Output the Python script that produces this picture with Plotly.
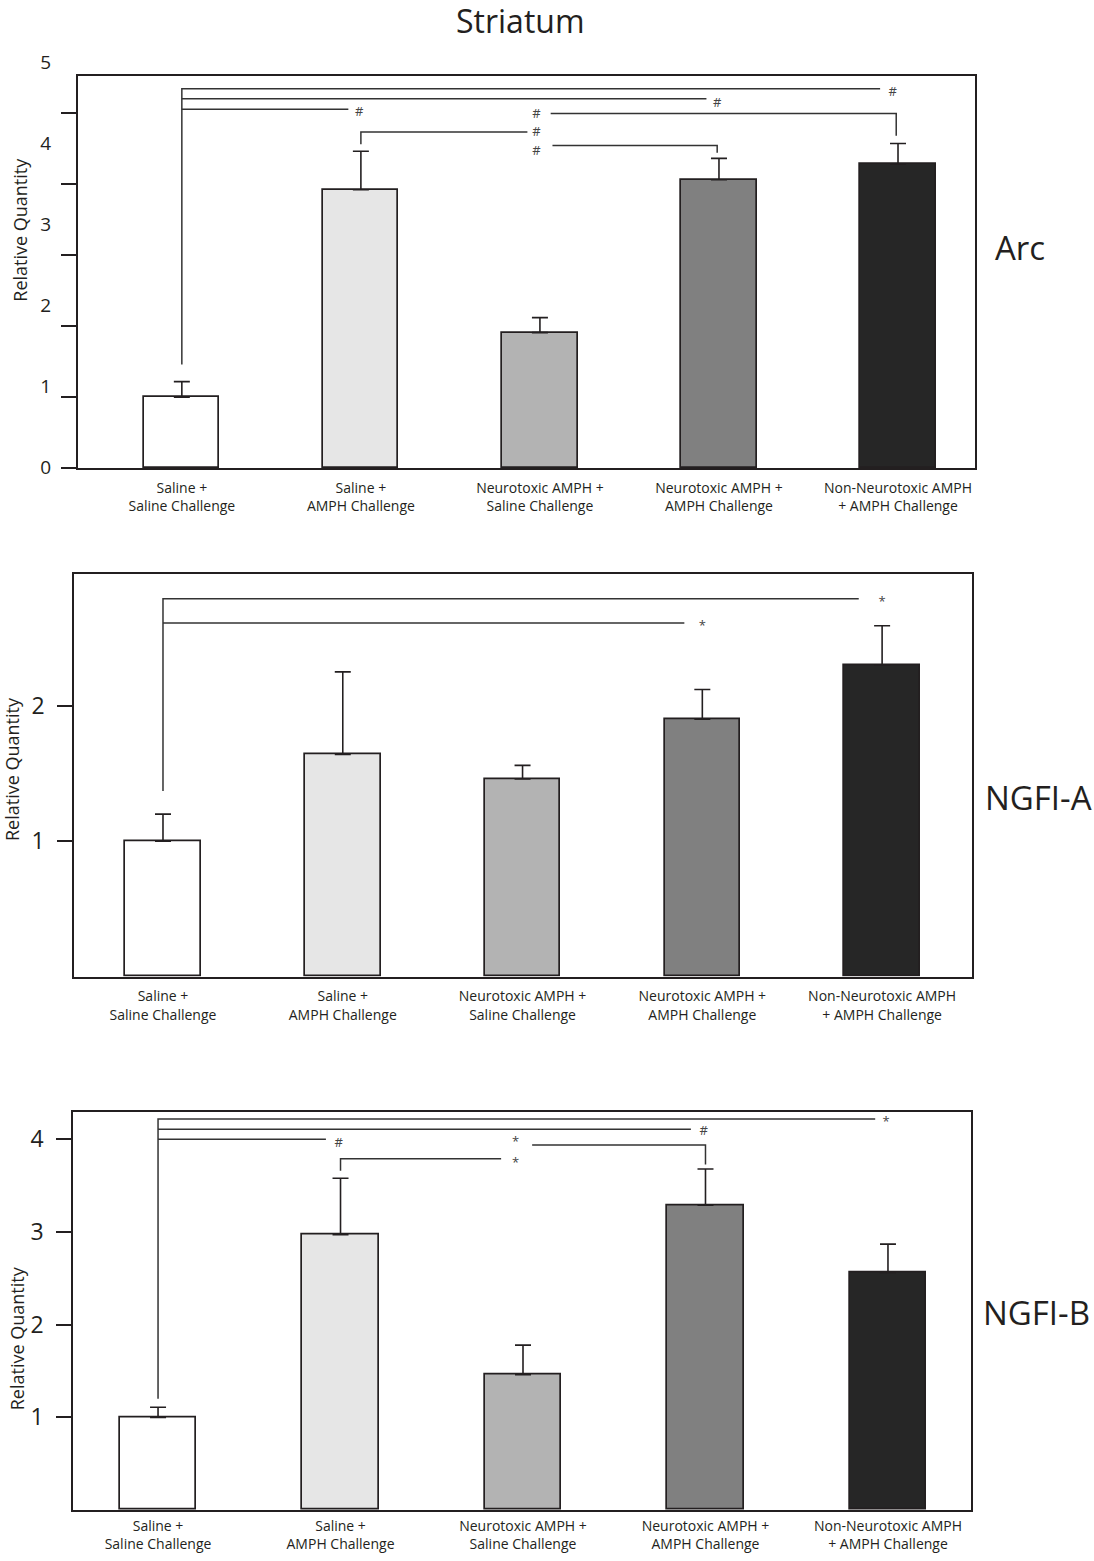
import plotly.graph_objects as go

W, H = 1094, 1561
# the captured page is about 14 px taller than the figure and is squeezed to H,
# so vertical layout positions are laid out on this effective height
H_EFF = 1547

categories = ["Saline +<br>Saline Challenge", "Saline +<br>AMPH Challenge",
              "Neurotoxic AMPH +<br>Saline Challenge", "Neurotoxic AMPH +<br>AMPH Challenge",
              "Non-Neurotoxic AMPH<br>+ AMPH Challenge"]
bar_colors = ["#ffffff", "#e6e6e6", "#b3b3b3", "#808080", "#262626"]

# Arc
arc_mean = [1.0, 3.92, 1.91, 4.06, 4.28]
arc_err = [0.22, 0.54, 0.21, 0.30, 0.29]
arc_ticks = [0, 1, 2, 3, 4, 5]
# significance lines: start x, end x, level, drop at start to, drop at end to
arc_sig_x0 = [0, 0, 0, 1.0, 2.06, 2.07]
arc_sig_x1 = [3.90, 2.93, 0.93, 1.93, 3.99, 2.99]
arc_sig_y = [5.34, 5.20, 5.05, 4.73, 4.99, 4.54]
arc_sig_drop0 = [1.46, None, None, 4.56, None, None]
arc_sig_drop1 = [None, None, None, None, 4.68, 4.44]
arc_sym = ["#", "#", "#", "#", "#", "#"]
arc_sym_x = [3.97, 2.99, 0.99, 1.98, 1.98, 1.98]
arc_sym_y = [5.28, 5.13, 5.00, 4.72, 4.97, 4.46]

# NGFI-A
ngfia_mean = [1.0, 1.64, 1.46, 1.90, 2.30]
ngfia_err = [0.20, 0.61, 0.10, 0.22, 0.29]
ngfia_ticks = [1, 2]
ngfia_sig_x0 = [0, 0]
ngfia_sig_x1 = [3.87, 2.90]
ngfia_sig_y = [2.79, 2.61]
ngfia_sig_drop0 = [1.37, None]
ngfia_sig_drop1 = [None, None]
ngfia_sym = ["*", "*"]
ngfia_sym_x = [4.0, 3.0]
ngfia_sym_y = [2.76, 2.58]

# NGFI-B
ngfib_mean = [1.0, 2.97, 1.46, 3.29, 2.56]
ngfib_err = [0.11, 0.61, 0.32, 0.39, 0.31]
ngfib_ticks = [1, 2, 3, 4]
ngfib_sig_x0 = [0, 0, 0, 2.05, 1.0]
ngfib_sig_x1 = [3.93, 2.92, 0.92, 3.0, 1.88]
ngfib_sig_y = [4.22, 4.11, 4.00, 3.94, 3.79]
ngfib_sig_drop0 = [1.20, None, None, None, 3.66]
ngfib_sig_drop1 = [None, None, None, 3.73, None]
ngfib_sym = ["*", "#", "#", "*", "*"]
ngfib_sym_x = [3.99, 2.99, 0.99, 1.96, 1.96]
ngfib_sym_y = [4.18, 4.08, 3.95, 3.96, 3.74]

INK = "#231f20"
FONT = "Open Sans"

panels = [
    dict(mean=arc_mean, err=arc_err, x0=arc_sig_x0, x1=arc_sig_x1, y=arc_sig_y,
         d0=arc_sig_drop0, d1=arc_sig_drop1, sym=arc_sym, sx=arc_sym_x, sy=arc_sym_y),
    dict(mean=ngfia_mean, err=ngfia_err, x0=ngfia_sig_x0, x1=ngfia_sig_x1, y=ngfia_sig_y,
         d0=ngfia_sig_drop0, d1=ngfia_sig_drop1, sym=ngfia_sym, sx=ngfia_sym_x, sy=ngfia_sym_y),
    dict(mean=ngfib_mean, err=ngfib_err, x0=ngfib_sig_x0, x1=ngfib_sig_x1, y=ngfib_sig_y,
         d0=ngfib_sig_drop0, d1=ngfib_sig_drop1, sym=ngfib_sym, sx=ngfib_sym_x, sy=ngfib_sym_y),
]

fig = go.Figure()
for i, p in enumerate(panels):
    sfx = "" if i == 0 else str(i + 1)
    xa, ya = "x" + sfx, "y" + sfx
    fig.add_trace(go.Bar(
        x=list(range(5)), y=p["mean"], width=0.42,
        marker=dict(color=bar_colors, line=dict(color=INK, width=1.7)),
        error_y=dict(type="data", array=p["err"], arrayminus=[0] * 5, symmetric=False,
                     color=INK, thickness=1.6, width=8),
        xaxis=xa, yaxis=ya, showlegend=False, hoverinfo="skip"))
    lx, ly = [], []
    for x0, x1, y, d0, d1 in zip(p["x0"], p["x1"], p["y"], p["d0"], p["d1"]):
        if d0 is not None:
            lx += [x0, x0]
            ly += [d0, y]
        else:
            lx += [x0]
            ly += [y]
        lx += [x1]
        ly += [y]
        if d1 is not None:
            lx += [x1]
            ly += [d1]
        lx += [None]
        ly += [None]
    fig.add_trace(go.Scatter(x=lx, y=ly, mode="lines", line=dict(color="#333333", width=1.5),
                             xaxis=xa, yaxis=ya, showlegend=False, hoverinfo="skip"))
    fig.add_trace(go.Scatter(x=p["sx"], y=p["sy"], mode="text", text=p["sym"],
                             textfont=dict(family=FONT, size=13, color="#444444"),
                             xaxis=xa, yaxis=ya, showlegend=False, hoverinfo="skip"))

# invisible trace holding the free label axis of the top panel
fig.add_trace(go.Scatter(x=[None], y=[None], xaxis="x4", yaxis="y4", showlegend=False,
                         hoverinfo="skip"))

def px_x(v):
    return v / W

def px_y(v):
    return 1 - v / H_EFF

x_common = dict(tickvals=list(range(5)), ticktext=categories, ticks="", showline=True,
                mirror=True, linecolor=INK, linewidth=1.6, showgrid=False, zeroline=False,
                tickfont=dict(family=FONT, size=14, color=INK))
y_common = dict(ticks="outside", ticklen=15, tickwidth=1.6, tickcolor=INK, showline=True,
                mirror=True, linecolor=INK, linewidth=1.6, showgrid=False, zeroline=False,
                tickfont=dict(family=FONT, size=23, color=INK), ticklabelstandoff=8)

fig.update_layout(
    width=W, height=H, margin=dict(l=0, r=0, t=0, b=0),
    paper_bgcolor="white", plot_bgcolor="rgba(0,0,0,0)",
    xaxis=dict(domain=[px_x(78), px_x(975)], range=[-0.58, 4.43], anchor="y",
               ticklabelstandoff=6, **x_common),
    yaxis=dict(domain=[px_y(466), px_y(73)], range=[0, 5.52], anchor="x",
               tickvals=arc_ticks, showticklabels=False, **y_common),
    xaxis4=dict(domain=[px_x(78), px_x(975)], range=[0, 1], anchor="y4", visible=False),
    yaxis4=dict(domain=[px_y(465), px_y(49)], range=[0, 5.123], anchor="free",
                position=px_x(78), tickvals=arc_ticks,
                ticks="outside", ticklen=15, tickcolor="rgba(0,0,0,0)", showline=False,
                showgrid=False, zeroline=False, ticklabelstandoff=8,
                tickfont=dict(family=FONT, size=19, color=INK)),
    xaxis2=dict(domain=[px_x(74), px_x(972)], range=[-0.495, 4.50], anchor="y2",
                ticklabelstandoff=6, **x_common),
    yaxis2=dict(domain=[px_y(975), px_y(572)], range=[0, 2.97], anchor="x2",
                tickvals=ngfia_ticks, **y_common),
    xaxis3=dict(domain=[px_x(73), px_x(971)], range=[-0.466, 4.455], anchor="y3",
                ticklabelstandoff=2, **x_common),
    yaxis3=dict(domain=[px_y(1509), px_y(1110)], range=[0, 4.30], anchor="x3",
                tickvals=ngfib_ticks, **y_common),
    bargap=0,
)

annotations = [
    dict(text="Striatum", x=px_x(520), y=px_y(18), font=dict(size=32)),
    dict(text="Arc", x=px_x(993), y=px_y(245), xanchor="left", font=dict(size=33)),
    dict(text="NGFI-A", x=px_x(983), y=px_y(796), xanchor="left", font=dict(size=33)),
    dict(text="NGFI-B", x=px_x(981), y=px_y(1311), xanchor="left", font=dict(size=33)),
    dict(text="Relative Quantity", x=px_x(20), y=px_y(227), textangle=-90, font=dict(size=18)),
    dict(text="Relative Quantity", x=px_x(12), y=px_y(767), textangle=-90, font=dict(size=18)),
    dict(text="Relative Quantity", x=px_x(17), y=px_y(1337), textangle=-90, font=dict(size=18)),
]
for a in annotations:
    a.setdefault("xanchor", "center")
    a["font"].update(family=FONT, color=INK)
    fig.add_annotation(xref="paper", yref="paper", showarrow=False, yanchor="middle", **a)

fig.write_html(
    "out.html",
    config={"displayModeBar": False},
    post_script=("document.documentElement.style.overflow='hidden';"
                 "document.body.style.overflow='hidden';"
                 "document.body.style.margin='0px';"),
)
